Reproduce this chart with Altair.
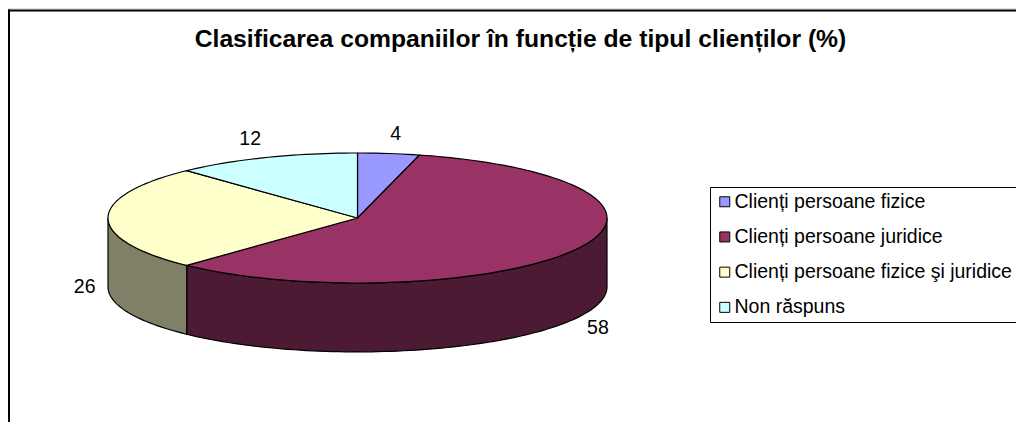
import math
import altair as alt
import pandas as pd

# ---- data ----
categories = [
    "Clienți persoane fizice",
    "Clienți persoane juridice",
    "Clienți persoane fizice şi juridice",
    "Non răspuns",
]
values = [4, 58, 26, 12]
top_colors = ["#9999FF", "#993366", "#FFFFCC", "#CCFFFF"]
side_colors = ["#4D4D80", "#4D1A33", "#808066", "#668080"]
title_text = "Clasificarea companiilor în funcție de tipul clienților (%)"

W, H = 1008, 414
DEPTH = 1.06  # thickness of the 3-D pie, in units of the vertical semi-axis
FONT = "Liberation Sans"

# ---- derived geometry (angles from the values, clockwise from 12 o'clock) ----
total = float(sum(values))
starts, ends = [], []
acc = 0.0
for v in values:
    starts.append(acc / total * 360.0)
    acc += v
    ends.append(acc / total * 360.0)


def pt(deg, drop=0.0):
    r = math.radians(deg)
    return math.sin(r), math.cos(r) - drop


top_rows = []
for c, s, e in zip(categories, starts, ends):
    n = max(2, int((e - s) / 1.5) + 1)
    pts = [(0.0, 0.0)] + [pt(s + (e - s) * k / n) for k in range(n + 1)] + [(0.0, 0.0)]
    for j, (x, y) in enumerate(pts):
        top_rows.append({"category": c, "x": x, "y": y, "o": j})
top_df = pd.DataFrame(top_rows)

side_rows = []
for c, sc, s, e in zip(categories, side_colors, starts, ends):
    a, b = max(s, 90.0), min(e, 270.0)
    if b <= a:
        continue
    n = max(2, int((b - a) / 1.5) + 1)
    pts = [pt(a + (b - a) * k / n) for k in range(n + 1)]
    pts += [pt(b - (b - a) * k / n, DEPTH) for k in range(n + 1)]
    pts += [pt(a)]
    for j, (x, y) in enumerate(pts):
        side_rows.append({"part": c, "side": sc, "x": x, "y": y, "o": j})
side_df = pd.DataFrame(side_rows)

label_rows = []
for c, v, s, e in zip(categories, values, starts, ends):
    m = math.radians((s + e) / 2.0)
    front = math.cos(m) < 0.01
    label_rows.append({
        "label": str(v),
        "half": "left" if math.sin(m) < 0 else "right",
        "x": 1.05 * math.sin(m),
        "y": 1.3 * math.cos(m) - (DEPTH if front else 0.0),
    })
label_df = pd.DataFrame(label_rows)

xs = alt.Scale(domain=[-1, 1], range=[100, 599], nice=False, zero=False)
ys = alt.Scale(domain=[-1, 1], range=[275, 145], nice=False, zero=False)

X = alt.X("x:Q", scale=xs, axis=None)
Y = alt.Y("y:Q", scale=ys, axis=None)

sides = alt.Chart(side_df).mark_line(stroke="black", strokeWidth=1.2, strokeJoin="round").encode(
    x=X, y=Y,
    fill=alt.Fill("side:N", scale=None, legend=None),
    detail="part:N",
    order="o:Q",
)

tops = alt.Chart(top_df).mark_line(stroke="black", strokeWidth=1.2, strokeJoin="round").encode(
    x=X, y=Y,
    fill=alt.Fill(
        "category:N",
        scale=alt.Scale(domain=categories, range=top_colors),
        sort=categories,
        legend=alt.Legend(
            title=None,
            orient="none",
            legendX=702,
            legendY=179,
            fillColor="white",
            strokeColor="black",
            padding=5,
            labelFont=FONT,
            labelFontSize=19.5,
            labelColor="black",
            labelOffset=0,
            labelLimit=0,
            symbolType="square",
            symbolSize=100,
            symbolStrokeColor="black",
            symbolStrokeWidth=1,
            rowPadding=14.2,
        ),
    ),
    detail="category:N",
    order="o:Q",
)

label_base = alt.Chart(label_df)
labels_left = label_base.transform_filter(alt.datum.half == "left").mark_text(
    font=FONT, fontSize=19.5, color="black", align="right", baseline="middle"
).encode(x=X, y=Y, text="label:N")
labels_right = label_base.transform_filter(alt.datum.half == "right").mark_text(
    font=FONT, fontSize=19.5, color="black", align="left", baseline="middle"
).encode(x=X, y=Y, text="label:N")

one = pd.DataFrame({"k": [0]})
frame_left = alt.Chart(one).mark_rule(color="black", strokeWidth=2).encode(
    x=alt.value(1), y=alt.value(1.5), y2=alt.value(H)
)
frame_top = alt.Chart(one).mark_rule(color="black", strokeWidth=2).encode(
    x=alt.value(0), x2=alt.value(W), y=alt.value(2.5)
)

chart = alt.layer(
    frame_left, frame_top, sides, tops, labels_left, labels_right
).resolve_scale(
    fill="independent"
).properties(
    width=W,
    height=H,
    padding=0,
    autosize=alt.AutoSizeParams(type="none"),
    title=alt.TitleParams(
        text=title_text,
        font=FONT,
        fontSize=24.7,
        fontWeight="bold",
        color="black",
        anchor="middle",
        frame="group",
        orient="top",
        offset=-64,
        baseline="alphabetic",
        dx=8.5,
    ),
).configure_view(stroke=None).configure(background="white")

chart.save("out.html", embed_options={"renderer": "svg", "actions": False})
